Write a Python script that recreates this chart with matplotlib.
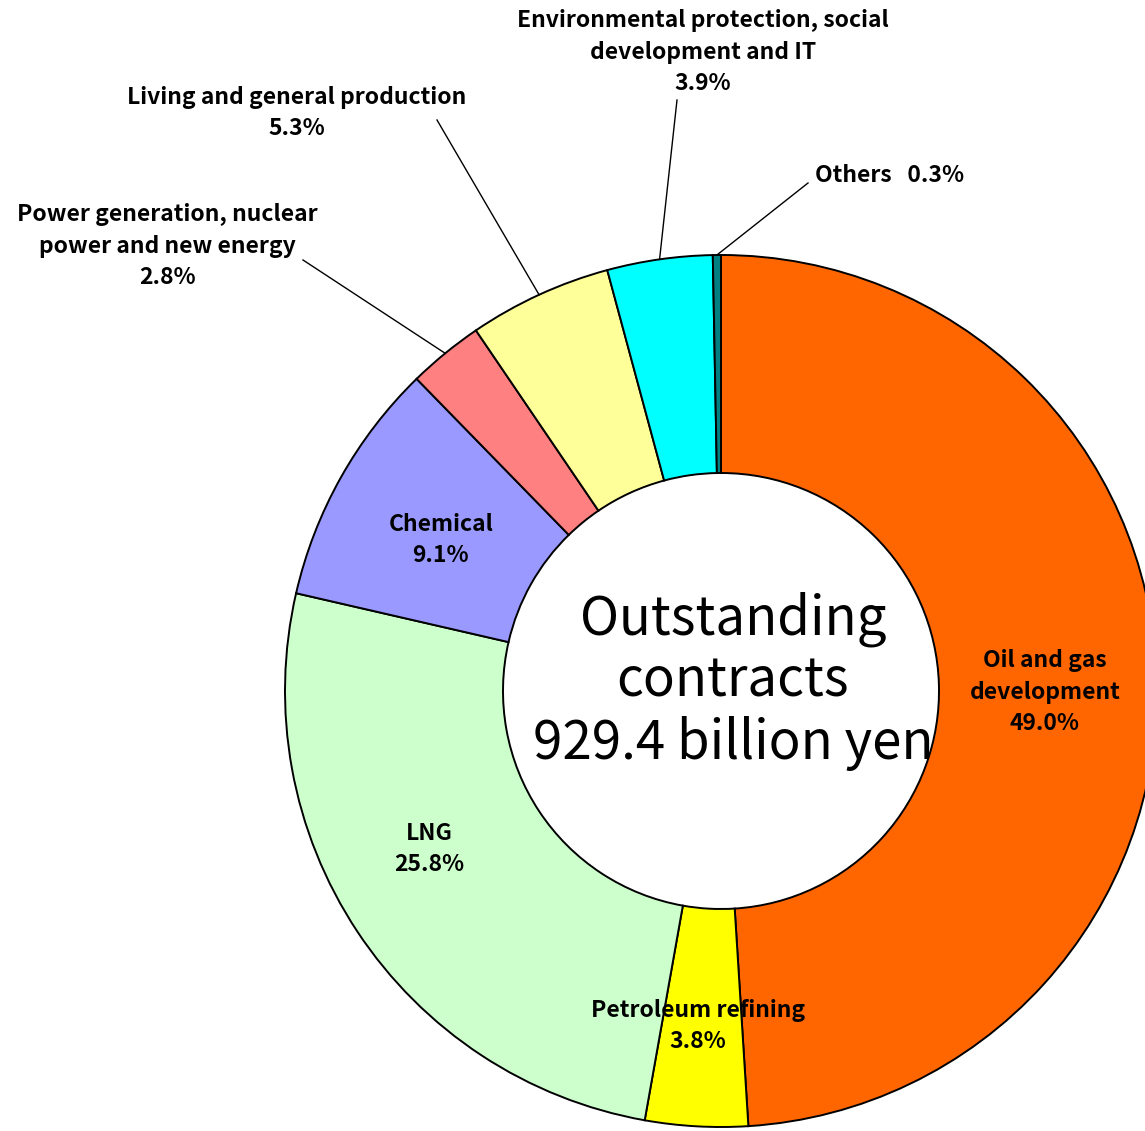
import numpy as np
import matplotlib.pyplot as plt

plt.rcParams['font.family'] = ['Noto Sans CJK JP', 'DejaVu Sans']

# data
labels = ['Oil and gas\ndevelopment', 'Petroleum refining', 'LNG', 'Chemical',
          'Power generation, nuclear\npower and new energy',
          'Living and general production',
          'Environmental protection, social\ndevelopment and IT', 'Others']
shares = [49.0, 3.8, 25.8, 9.1, 2.8, 5.3, 3.9, 0.3]
colors = ['#FF6600', '#FFFF00', '#CCFFCC', '#9999FF', '#FF8080', '#FFFF99',
          '#00FFFF', '#008080']
center_text = 'Outstanding\ncontracts\n929.4 billion yen'

W, H = 1145, 1131
cx, cy, R = 721, H - 691, 436


def main():
    fig = plt.figure(figsize=(W / 100, H / 100), dpi=100)
    ax = fig.add_axes([0, 0, 1, 1])

    wedges, _ = ax.pie(shares, colors=colors, startangle=90, counterclock=False,
                       center=(cx, cy), radius=R,
                       wedgeprops=dict(width=R * 0.5, edgecolor='black', linewidth=1.4))

    ax.set_xlim(0, W)
    ax.set_ylim(0, H)
    ax.set_aspect('auto')
    ax.axis('off')

    ax.text(cx + 12, cy + 10, center_text, ha='center', va='center', fontsize=38,
            linespacing=1.16)

    # labels inside the ring
    inside = {0: (0.743, -2.0), 1: (0.77, -0.7), 2: (0.76, -5.0), 3: (0.73, 1.0)}
    for i, (rf, dang) in inside.items():
        w = wedges[i]
        ang = np.deg2rad((w.theta1 + w.theta2) / 2 + dang)
        x = cx + rf * R * np.cos(ang)
        y = cy + rf * R * np.sin(ang)
        ax.text(x, y, '%s\n%.1f%%' % (labels[i], shares[i]), ha='center', va='center',
                fontsize=16.5, fontweight='bold', linespacing=1.47)

    # labels outside with leader lines: text center, leader end (pixel coords)
    outside = {4: ((167, 246), (303, 260)),
               5: ((297, 113), (437, 120)),
               6: ((703, 52), (677, 100)),
               7: ((890, 175), (808, 183))}
    for i, ((tx, ty), (lx, ly)) in outside.items():
        w = wedges[i]
        ang = np.deg2rad((w.theta1 + w.theta2) / 2)
        ex = cx + R * np.cos(ang)
        ey = cy + R * np.sin(ang)
        ax.plot([ex, lx], [ey, H - ly], color='black', lw=1.0)
        if i == 7:
            txt = '%s   %.1f%%' % (labels[i], shares[i])
        else:
            txt = '%s\n%.1f%%' % (labels[i], shares[i])
        ax.text(tx, H - ty, txt, ha='center', va='center', fontsize=16.5,
                fontweight='bold', linespacing=1.47)

    fig.savefig('out.png', dpi=100)


if __name__ == '__main__':
    main()
